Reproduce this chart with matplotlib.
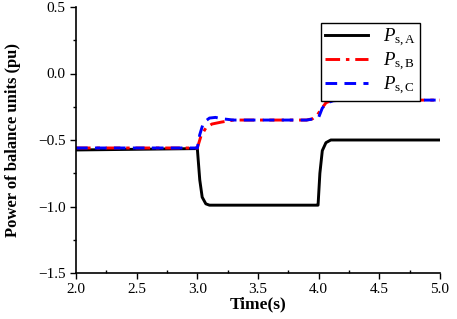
import numpy as np
import matplotlib
matplotlib.use("Agg")
from matplotlib import pyplot as plt
from matplotlib.ticker import MultipleLocator, FuncFormatter

plt.rcParams["font.family"] = "Liberation Serif"
plt.rcParams["mathtext.fontset"] = "custom"
plt.rcParams["mathtext.rm"] = "Liberation Serif"
plt.rcParams["mathtext.it"] = "Liberation Serif:italic"

t_a = [2.0, 2.97, 3.0, 3.02, 3.04, 3.07, 3.1, 3.98, 3.995, 4.01, 4.03, 4.06, 4.1, 5.0]
p_a = [-0.575, -0.565, -0.565, -0.80, -0.93, -0.98, -0.99, -0.99, -0.99, -0.75, -0.58, -0.52, -0.50, -0.50]

t_b = [2.0, 3.0, 3.03, 3.07, 3.12, 3.2, 3.3, 3.9, 3.95, 3.99, 4.02, 4.06, 4.1, 4.15, 5.0]
p_b = [-0.56, -0.56, -0.47, -0.41, -0.38, -0.365, -0.35, -0.35, -0.34, -0.31, -0.27, -0.22, -0.205, -0.2, -0.2]

t_c = [2.0, 3.0, 3.02, 3.05, 3.1, 3.15, 3.2, 3.3, 3.9, 3.97, 4.0, 4.03, 4.07, 4.12, 4.2, 5.0]
p_c = [-0.56, -0.56, -0.46, -0.37, -0.335, -0.33, -0.34, -0.35, -0.35, -0.34, -0.33, -0.26, -0.22, -0.205, -0.2, -0.2]

labels = [r"$P_{\mathrm{s,A}}$", r"$P_{\mathrm{s,B}}$", r"$P_{\mathrm{s,C}}$"]

fig = plt.figure(figsize=(4.57, 3.19), dpi=100)
ax = fig.add_axes([76 / 457, 1 - 273 / 319, (440 - 76) / 457, (273 - 7) / 319])

ax.plot(t_a, p_a, color="black", lw=2.1, label=labels[0])
ax.plot(t_b, p_b, color="red", lw=2.1, ls=(0, (5, 2, 1.2, 2)), label=labels[1])
ax.plot(t_c, p_c, color="blue", lw=2.1, ls=(0, (4, 2.5)), label=labels[2])

ax.set_xlim(2.0, 5.0)
ax.set_ylim(-1.5, 0.5)
fmt = FuncFormatter(lambda v, pos: f"{v:.1f}".replace("-", "\u2212"))
ax.xaxis.set_major_locator(MultipleLocator(0.5))
ax.xaxis.set_minor_locator(MultipleLocator(0.25))
ax.yaxis.set_major_locator(MultipleLocator(0.5))
ax.yaxis.set_minor_locator(MultipleLocator(0.25))
ax.xaxis.set_major_formatter(fmt)
ax.yaxis.set_major_formatter(fmt)
ax.tick_params(which="major", direction="out", length=4, width=1, labelsize=11)
ax.tick_params(which="minor", direction="out", length=2.5, width=1)
ax.tick_params(axis="x", which="minor", direction="in")

for side in ["top", "right"]:
    ax.spines[side].set_visible(False)
for side in ["left", "bottom"]:
    ax.spines[side].set_linewidth(1.2)

ax.set_xlabel("Time(s)", fontweight="bold", fontsize=12.5, labelpad=0)
ax.set_ylabel("Power of balance units (pu)", fontweight="bold", fontsize=12, labelpad=12)

leg = ax.legend(loc="upper right", bbox_to_anchor=(0.945, 0.94), borderaxespad=0,
                fontsize=13.5, frameon=True, fancybox=False, framealpha=1,
                edgecolor="black", handlelength=2.3, borderpad=0.2,
                labelspacing=0.1, handletextpad=0.8)
leg.get_frame().set_linewidth(1.0)

fig.savefig("out.png", dpi=100)
